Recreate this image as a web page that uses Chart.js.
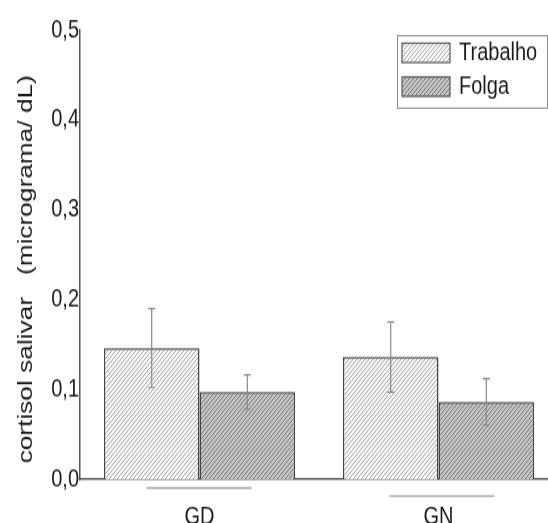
<!DOCTYPE html>
<html>
<head>
<meta charset="utf-8">
<script src="https://cdn.jsdelivr.net/npm/chart.js@4.4.1/dist/chart.umd.min.js"></script>
<style>
  html, body { margin: 0; padding: 0; background: #fff; overflow: hidden; width: 548px; height: 523px; }
  /* the source figure is stretched vertically, so the chart is drawn flat and scaled */
  #wrap { position: absolute; left: 0; top: 0; width: 558px; height: 418px; transform: scale(1, 1.2512); transform-origin: 0 0; }
</style>
</head>
<body>
<div id="wrap"><canvas id="chart"></canvas></div>
<script>
const categories = ['GD', 'GN'];
const seriesNames = ['Trabalho', 'Folga'];
const trabalho = [0.146, 0.136];
const folga = [0.097, 0.086];
const trabalhoErr = [0.044, 0.039];
const folgaErr = [0.019, 0.026];
const yTicks = [0, 0.1, 0.2, 0.3, 0.4, 0.5];
const yTitle = 'cortisol salivar   (micrograma/ dL)\u00a0\u00a0\u00a0\u00a0';

Chart.defaults.font.family = "'Liberation Sans', Arial, sans-serif";

// diagonal hatch fill
function hatch(bg, fg) {
  const s = 4;
  const c = document.createElement('canvas');
  c.width = s; c.height = s;
  const g = c.getContext('2d');
  g.fillStyle = bg;
  g.fillRect(0, 0, s, s);
  g.strokeStyle = fg;
  g.lineWidth = 1;
  g.beginPath();
  g.moveTo(0, s); g.lineTo(s, 0);
  g.moveTo(-1, 1); g.lineTo(1, -1);
  g.moveTo(s - 1, s + 1); g.lineTo(s + 1, s - 1);
  g.stroke();
  return g.createPattern(c, 'repeat');
}

const fillTrab = hatch('#f7f7f7', '#a8a8a8');
const fillFolga = hatch('#c4c4c4', '#7a7a7a');

const errorBars = {
  id: 'errorBars',
  afterDatasetsDraw(chart) {
    const { ctx, scales: { y } } = chart;
    ctx.save();
    ctx.strokeStyle = '#8a8a8a';
    ctx.lineWidth = 1.2;
    chart.data.datasets.forEach((ds, i) => {
      chart.getDatasetMeta(i).data.forEach((bar, j) => {
        const top = y.getPixelForValue(ds.data[j] + ds.errors[j]);
        const bot = y.getPixelForValue(ds.data[j] - ds.errors[j]);
        ctx.beginPath();
        ctx.moveTo(bar.x, top); ctx.lineTo(bar.x, bot);
        ctx.moveTo(bar.x - 3.5, top); ctx.lineTo(bar.x + 3.5, top);
        ctx.moveTo(bar.x - 3.5, bot); ctx.lineTo(bar.x + 3.5, bot);
        ctx.stroke();
      });
    });
    ctx.restore();
  }
};

// grey rules under the group labels + framed legend
const decorations = {
  id: 'decorations',
  afterDraw(chart) {
    const { ctx, chartArea, scales: { x } } = chart;
    ctx.save();
    ctx.strokeStyle = '#a8a8a8';
    ctx.lineWidth = 1.5;
    const drops = [7, 13.5];
    const shifts = [-0.5, 3.5];
    categories.forEach((c, i) => {
      const cx = x.getPixelForValue(i) + shifts[i];
      const yy = chartArea.bottom + drops[i];
      ctx.beginPath();
      ctx.moveTo(cx - 52.5, yy); ctx.lineTo(cx + 52.5, yy);
      ctx.stroke();
    });

    const bx = chartArea.right - 161, by = chartArea.top + 4, bw = 150, bh = 58;
    ctx.fillStyle = '#fff';
    ctx.fillRect(bx, by, bw, bh);
    ctx.strokeStyle = '#8c8c8c';
    ctx.lineWidth = 1;
    ctx.strokeRect(bx + 0.5, by + 0.5, bw, bh);
    ctx.font = "20px 'Liberation Sans', Arial, sans-serif";
    ctx.textBaseline = 'middle';
    chart.data.datasets.forEach((ds, i) => {
      const sy = by + 6.5 + i * 27;
      ctx.fillStyle = ds.backgroundColor;
      ctx.fillRect(bx + 5, sy, 48, 15.5);
      ctx.strokeStyle = '#555';
      ctx.lineWidth = 1.2;
      ctx.strokeRect(bx + 5, sy, 48, 15.5);
      ctx.fillStyle = '#1a1a1a';
      ctx.fillText(ds.label, bx + 62, sy + 8);
    });
    ctx.restore();
  }
};

new Chart(document.getElementById('chart'), {
  type: 'bar',
  data: {
    labels: categories,
    datasets: [
      {
        label: seriesNames[0],
        data: trabalho,
        errors: trabalhoErr,
        backgroundColor: fillTrab,
        borderColor: '#444',
        borderWidth: 1.5,
        borderSkipped: 'bottom'
      },
      {
        label: seriesNames[1],
        data: folga,
        errors: folgaErr,
        backgroundColor: fillFolga,
        borderColor: '#444',
        borderWidth: 1.5,
        borderSkipped: 'bottom'
      }
    ]
  },
  options: {
    responsive: true,
    maintainAspectRatio: false,
    animation: false,
    layout: { padding: { top: 24, right: 0, left: 0, bottom: 0 } },
    datasets: { bar: { categoryPercentage: 0.8, barPercentage: 1.0 } },
    scales: {
      x: {
        grid: { display: false, drawTicks: false },
        border: { display: true, color: '#555', width: 1.5 },
        ticks: { color: '#1a1a1a', font: { size: 20 }, padding: 18 },
        afterFit: (s) => { s.height = 35; }
      },
      y: {
        min: 0,
        max: 0.5,
        afterBuildTicks: (s) => { s.ticks = yTicks.map(v => ({ value: v })); },
        grid: { display: false, drawTicks: false },
        border: { display: true, color: '#555', width: 1.5 },
        ticks: {
          color: '#1a1a1a',
          font: { size: 20 },
          padding: 1,
          callback: (v) => v.toFixed(1).replace('.', ',')
        },
        title: {
          display: true,
          text: yTitle,
          color: '#1a1a1a',
          font: { size: 21 },
          padding: { top: 14, bottom: 0 }
        },
        afterFit: (s) => { s.width = 80; }
      }
    },
    plugins: {
      legend: { display: false },
      tooltip: { enabled: false }
    }
  },
  plugins: [errorBars, decorations]
});
</script>
</body>
</html>
